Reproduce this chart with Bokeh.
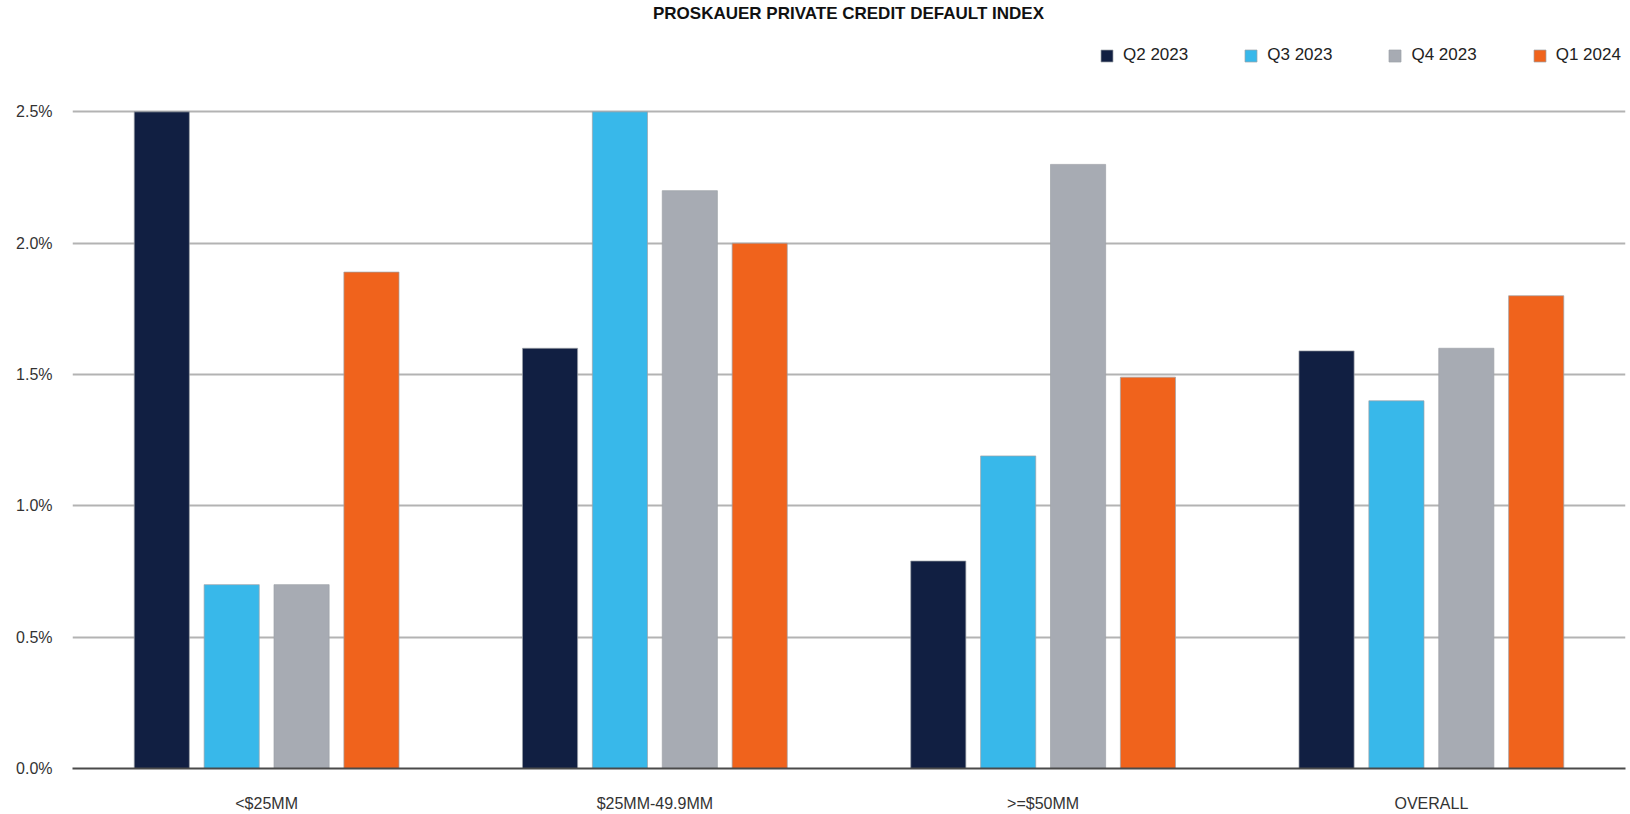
from bokeh.plotting import figure
from bokeh.models import (ColumnDataSource, Range1d, FactorRange, FixedTicker,
                          PrintfTickFormatter, Legend, LegendItem, Label)
from bokeh.transform import dodge
from bokeh.embed import file_html
from bokeh.resources import INLINE

# Default rates (%) by deal size bucket and quarter
categories = ["<$25MM", "$25MM-49.9MM", ">=$50MM", "OVERALL"]
quarters = ["Q2 2023", "Q3 2023", "Q4 2023", "Q1 2024"]
q2_2023 = [2.5, 1.6, 0.79, 1.59]
q3_2023 = [0.7, 2.5, 1.19, 1.4]
q4_2023 = [0.7, 2.2, 2.3, 1.6]
q1_2024 = [1.89, 2.0, 1.49, 1.8]
y_ticks = [0.0, 0.5, 1.0, 1.5, 2.0, 2.5]

colors = ["#111f42", "#38b8ea", "#a7abb3", "#f0631c"]
series_keys = ["q2_2023", "q3_2023", "q4_2023", "q1_2024"]
offsets = [-0.27, -0.09, 0.09, 0.27]

FONT = "Liberation Sans"

source = ColumnDataSource(dict(cat=categories, q2_2023=q2_2023, q3_2023=q3_2023,
                               q4_2023=q4_2023, q1_2024=q1_2024))

p = figure(width=1630, height=814, x_range=FactorRange(*categories),
           y_range=Range1d(0, 2.924), output_backend="svg", toolbar_location=None,
           min_border_left=72, min_border_right=5, min_border_top=0,
           min_border_bottom=45)
p.outline_line_color = None
p.background_fill_color = "white"
p.border_fill_color = "white"

renderers = []
for key, off, col in zip(series_keys, offsets, colors):
    r = p.vbar(x=dodge("cat", off, range=p.x_range), top=key, width=0.142,
               source=source, fill_color=col, line_color="#9ea3a8",
               line_width=1, line_alpha=0.7)
    renderers.append(r)

# axes
p.xgrid.grid_line_color = None
p.ygrid.grid_line_color = "#b3b3b3"
p.ygrid.grid_line_width = 2
p.yaxis.ticker = FixedTicker(ticks=y_ticks)
p.yaxis.formatter = PrintfTickFormatter(format="%.1f%%")
p.yaxis.axis_line_color = None
p.yaxis.major_tick_line_color = None
p.yaxis.minor_tick_line_color = None
p.yaxis.major_tick_out = 0
p.yaxis.major_tick_in = 0
p.yaxis.major_label_standoff = 20
p.yaxis.major_label_text_font = FONT
p.yaxis.major_label_text_font_size = "16px"
p.yaxis.major_label_text_color = "#333333"

p.xaxis.axis_line_color = "#4a4a4a"
p.xaxis.axis_line_width = 2
p.xaxis.major_tick_line_color = None
p.xaxis.major_tick_out = 0
p.xaxis.major_tick_in = 0
p.xaxis.major_label_standoff = 26
p.xaxis.major_label_text_font = FONT
p.xaxis.major_label_text_font_size = "16px"
p.xaxis.major_label_text_color = "#333333"

# title
title = Label(x=776, y=755, x_units="screen", y_units="screen",
              text="PROSKAUER PRIVATE CREDIT DEFAULT INDEX",
              text_font=FONT, text_font_size="17px", text_font_style="bold",
              text_color="#111111", text_align="center", text_baseline="middle")
p.add_layout(title)

# legend
legend = Legend(items=[LegendItem(label=q, renderers=[r]) for q, r in zip(quarters, renderers)],
                orientation="horizontal", location=(1027, 703),
                glyph_width=15, glyph_height=15, label_height=15,
                label_standoff=9, spacing=55, padding=0, margin=0,
                border_line_color=None, background_fill_alpha=0,
                label_text_font=FONT, label_text_font_size="17px",
                label_text_color="#222222")
p.add_layout(legend)

open("out.html", "w").write(file_html(p, INLINE))
